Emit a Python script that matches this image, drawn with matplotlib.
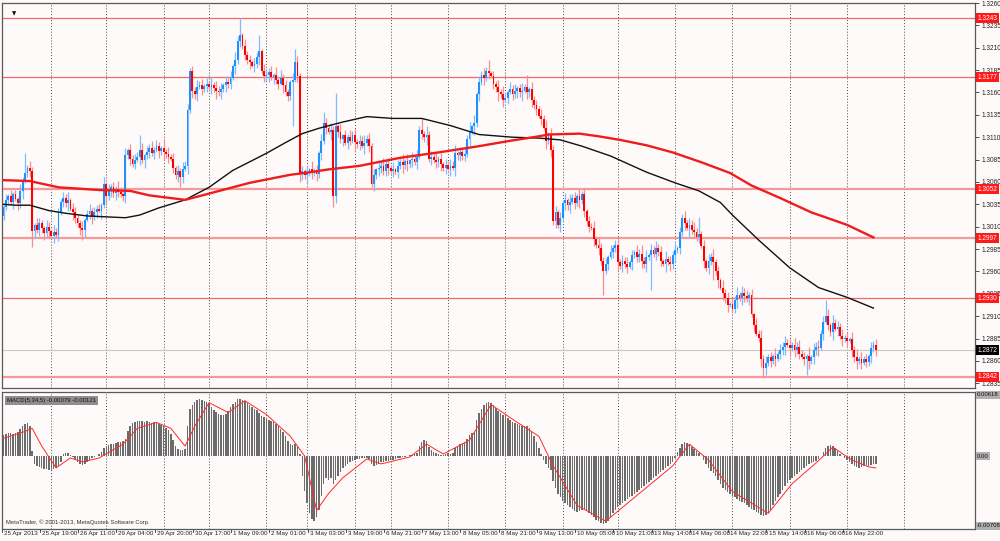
import numpy as np
import matplotlib
matplotlib.use("Agg")
import matplotlib.pyplot as plt
from matplotlib.transforms import blended_transform_factory

plt.rcParams["font.family"] = ["Liberation Sans", "DejaVu Sans"]

# EURUSD H1 candles, prices written as pips above 1.2800
BASE = 1.2800
first_open = 222
closes = [
    232, 240, 244, 238, 246, 241, 236, 250, 262, 270,
    276, 272, 205, 212, 206, 214, 208, 203, 210, 205,
    200, 204, 201, 225, 238, 242, 236, 240, 230, 226,
    220, 214, 208, 206, 218, 224, 228, 222, 226, 230,
    228, 234, 258, 244, 250, 254, 248, 252, 249, 246,
    244, 290, 296, 286, 280, 284, 288, 296, 284, 290,
    294, 298, 292, 296, 300, 295, 298, 293, 291, 288,
    286, 276, 268, 272, 266, 274, 278, 340, 384, 362,
    358, 366, 368, 364, 367, 370, 366, 368, 365, 362,
    360, 364, 368, 372, 370, 376, 390, 396, 418, 424,
    412, 402, 396, 394, 390, 392, 400, 406, 384, 378,
    380, 383, 377, 380, 374, 370, 376, 368, 360, 356,
    372, 374, 394, 378, 270, 272, 268, 271, 274, 270,
    272, 269, 292, 306, 326, 320, 316, 318, 244, 322,
    316, 308, 312, 304, 310, 306, 312, 305, 302, 306,
    300, 304, 308, 300, 258, 268, 274, 276, 278, 272,
    280, 276, 272, 274, 271, 278, 282, 279, 283, 280,
    284, 286, 282, 288, 318, 314, 310, 313, 286, 288,
    284, 282, 286, 280, 276, 279, 275, 278, 276, 292,
    290, 293, 289, 291, 308, 316, 322, 326, 358, 372,
    380, 376, 384, 382, 378, 370, 366, 360, 358, 352,
    354, 360, 364, 358, 362, 365, 360, 362, 366, 360,
    364, 352, 346, 342, 334, 330, 320, 306, 312, 296,
    216, 226, 212, 220, 236, 240, 234, 238, 242, 236,
    244, 240, 246, 228, 216, 210, 208, 196, 190, 186,
    172, 160, 168, 176, 182, 186, 190, 170, 166, 172,
    168, 165, 170, 178, 182, 176, 180, 172, 168, 176,
    178, 184, 180, 186, 182, 172, 168, 174, 170, 168,
    178, 184, 186, 204, 220, 214, 208, 212, 206, 204,
    198, 202, 188, 172, 164, 172, 176, 170, 160, 150,
    142, 136, 130, 122, 124, 118, 128, 134, 130, 136,
    132, 130, 134, 112, 100, 90, 86, 62, 52, 58,
    64, 60, 66, 62, 68, 72, 76, 80, 78, 74,
    78, 72, 76, 68, 64, 62, 66, 60, 64, 72,
    76, 74, 90, 104, 110, 100, 92, 102, 96, 98,
    88, 84, 86, 82, 85, 72, 64, 60, 62, 58,
    62, 59, 66, 74, 78, 72,
]

# wick lengths in pips, one digit per bar
upper_wick = ("4627352846 3752864375 2846375927 6438257364 5372846395 3826475382 "
              "6483752948 3627485736 4857362948 5736482957 3846275938 6472839564 "
              "2857463829 4738265847 3926485736 5847362859 4738265938 2748563947 "
              "5836274859 3647582936 4758263849 6384725936 2846375948 5736482947 "
              "3857264839 6472835946 4836275948 3748562937 5826374859 4637285946 "
              "3847265938 5736284957 4628375846 3857462938 5746382957 4836275948 "
              "3627485936")
lower_wick = ("5364827593 4728365847 3857264938 6473825946 2938475863 5847362938 "
              "4736285947 3658472938 5827364859 4738562947 3648275936 5837462948 "
              "4726385947 3857462938 6483752946 2947385764 5836274958 4738265947 "
              "3658472839 5746382957 4837265948 3726485937 5847362948 4638275936 "
              "3957462848 5836274937 4728365849 3847562938 5736482947 4628375948 "
              "3857264937 6473825948 4738265937 3846275948 5827364938 4736285947 "
              "3658472938")

high_fix = {9: 292, 57: 312, 99: 443, 107: 424, 122: 409, 134: 338, 139: 359,
            175: 331, 195: 327, 203: 396, 219: 379, 242: 250, 284: 224,
            291: 221, 344: 128, 365: 84}
low_fix = {12: 187, 22: 197, 33: 195, 74: 254, 119: 351, 121: 323, 124: 260,
           138: 232, 154: 254, 231: 208, 251: 134, 271: 139, 297: 150,
           305: 114, 318: 41, 336: 44}

# moving averages (bar index, pips above 1.2800)
red_ma_bars = [0, 11, 23, 40, 53, 61, 76, 86, 103, 120, 126, 136, 149, 166, 182,
               199, 212, 224, 228, 241, 249, 258, 269, 280, 292, 304, 313, 325,
               338, 353, 364]
red_ma_vals = [262, 261, 254, 251, 250, 245, 240, 247, 259, 268, 270, 274, 278,
               287, 293, 300, 306, 311, 313, 314, 311, 307, 301, 293, 282, 270,
               256, 242, 226, 212, 198]
black_ma_bars = [0, 5, 11, 19, 26, 35, 43, 51, 57, 65, 76, 86, 96, 110, 118, 125,
                 132, 142, 152, 163, 175, 187, 199, 213, 224, 233, 242, 254, 269,
                 281, 291, 300, 305, 316, 329, 341, 353, 364]
black_ma_vals = [235, 234, 234, 228, 225, 222, 221, 220, 223, 231, 240, 254, 273,
                 292, 304, 314, 320, 327, 333, 331, 331, 323, 313, 310, 309, 307,
                 300, 289, 271, 259, 250, 237, 223, 195, 164, 142, 131, 119]

# MACD(5,34,5) histogram, units of 0.0001
macd = [
    21, 22, 23, 23, 22, 23, 24, 27, 30, 32, 33, 30, 5,
    -8, -10, -11, -12, -13, -13, -14, -14, -13, -12, -10, -6,
    2, 3, 3, 1, -1, -3, -6, -8, -9, -8, -6, -4, -2, -1, 0, 2, 4,
    8, 10, 11, 12, 12, 13, 14, 14, 15, 17,
    25, 30, 33, 34, 35, 35, 35, 34, 35, 34, 33, 34, 33,
    32, 31, 30, 28, 26, 22, 16, 10, 7, 6, 6, 7, 30, 48, 52, 55,
    57, 58, 57, 56, 55, 53, 50, 47, 45, 43, 42, 42, 43, 46, 50, 53,
    55, 58, 58, 57, 56, 54, 52, 50, 48, 47, 44, 41, 39, 37, 36, 35, 34,
    32, 30, 27, 24, 20, 15, 12, 11, 12, 10, 2,
    -20, -35, -48, -58, -64, -66, -62, -55, -40, -28, -22, -24, -22, -28, -24,
    -20, -16, -12, -10, -8, -6, -5, -4, -3, -3, -2,
    -2, -2, -3, -8, -10, -9, -8, -6, -6, -5,
    -5, -4, -4, -3, -2, -2, -1, -1, 0, 1, 1, 2, 3, 10, 14, 16, 15, 9,
    6, 4, 3, 2, 1, 1, 2, 3, 2, 3, 8, 10, 12, 13, 14, 17, 21, 23, 24,
    36, 44, 48, 52, 54, 55, 54, 52, 49, 46, 44, 42, 40, 38, 36, 34, 33,
    32, 31, 30, 30, 30, 28, 25, 20, 14, 8, 2, -4, -8, -12, -14,
    -25, -32, -38, -42, -46, -48, -50, -52, -54, -56, -57,
    -56, -55, -54, -56, -58, -60, -62, -65, -66, -68, -69, -68, -66, -62, -58,
    -55, -52, -50, -48, -46, -44, -42, -40, -38, -36,
    -34, -32, -30, -28, -26, -24, -22, -20, -18, -16, -14, -12, -10, -8, -6,
    -2, 4, 8, 12, 14, 13, 11, 9, 7, 5, 3, 0, -4, -8, -12,
    -15, -17, -20, -24, -28, -32, -34, -36, -38, -40,
    -42, -44, -46, -47, -48, -50, -52, -54, -55,
    -57, -58, -60, -61, -60, -58, -55, -50, -46, -42, -38, -34, -30, -27, -24, -22,
    -20, -18, -16, -14, -12, -10, -8, -7, -6, -5,
    -3, 0, 4, 8, 10, 11, 10, 8, 5, 2, 0, -2, -4,
    -6, -8, -10, -11, -12, -11, -10, -9, -10, -9, -8, -8,
]
signal_bars = [0, 8, 12, 16, 22, 28, 33, 40, 50, 56, 64, 70, 76, 80, 86, 94, 101,
               110, 120, 126, 131, 136, 142, 152, 158, 170, 177, 184, 195, 204,
               215, 224, 230, 240, 252, 265, 280, 287, 295, 305, 320, 330, 340,
               347, 355, 362, 365]
signal_vals = [18, 24, 28, 10, -12, -2, -6, -2, 12, 28, 34, 28, 10, 30, 54, 44,
               56, 42, 20, 0, -55, -38, -22, -3, -8, -1, 12, 2, 16, 52, 34, 20,
               -10, -50, -66, -40, -10, 12, -4, -36, -58, -28, -7, 9, -4, -11, -12]

# horizontal levels drawn on the chart
thin_levels = [1.3243, 1.3177, 1.2930]
thick_levels = [1.3052, 1.2997, 1.2842]
bid = 1.2872

time_labels = ["25 Apr 2013", "25 Apr 19:00", "26 Apr 11:00", "29 Apr 04:00",
               "29 Apr 20:00", "30 Apr 17:00", "1 May 09:00", "2 May 01:00",
               "3 May 03:00", "3 May 19:00", "6 May 21:00", "7 May 13:00",
               "8 May 05:00", "8 May 21:00", "9 May 13:00", "10 May 05:00",
               "10 May 21:00", "13 May 14:00", "14 May 06:00", "14 May 22:00",
               "15 May 14:00", "16 May 06:00", "16 May 22:00"]
day_grid = [20, 43, 67, 86, 110, 127, 147, 162, 186, 210, 234, 257, 281, 305,
            329, 353, 377]

BG = "#fefaf9"
UP, DOWN = "#1e90ff", "#ff0000"
UP_WICK, DOWN_WICK = "#7dbdff", "#ff8a8a"
FS = 4.7

n = len(closes)
idx = np.arange(n)
c = np.array(closes, float)
o = np.concatenate([[first_open], c[:-1]])
uw = np.array([int(ch) for ch in upper_wick.replace(" ", "")][:n], float)
lw = np.array([int(ch) for ch in lower_wick.replace(" ", "")][:n], float)
h = np.maximum(o, c) + uw
l = np.minimum(o, c) - lw
for k, v in high_fix.items():
    h[k] = v
for k, v in low_fix.items():
    l[k] = v
o, c, h, l = [BASE + a / 10000 for a in (o, c, h, l)]

fig = plt.figure(figsize=(10, 5.41), dpi=100, facecolor=BG)
ax = fig.add_axes([0.002, 1 - 388 / 541, 0.973, 385 / 541], facecolor=BG)
ax2 = fig.add_axes([0.002, 1 - 529 / 541, 0.973, 137 / 541], facecolor=BG)

x_lo, x_hi = -0.63, 406.5
for a in (ax, ax2):
    a.set_xlim(x_lo, x_hi)
    for s in a.spines.values():
        s.set_color("#5a5a5a")
        s.set_linewidth(0.9)
    for g in day_grid:
        a.axvline(g, color="#4a4a4a", lw=0.7, ls=(0, (1, 2)), zorder=0)
    a.set_xticks([])

# price pane
ax.set_ylim(1.28297, 1.32598)
for lv in thin_levels:
    ax.axhline(lv, color="#f26a6a", lw=0.9, zorder=1)
for lv in thick_levels:
    ax.axhline(lv, color="#f59a9a", lw=1.6, zorder=1)
ax.axhline(bid, color="#c8c8c8", lw=0.8, zorder=1)

up = c >= o
wick_col = np.where(up, UP_WICK, DOWN_WICK)
body_col = np.where(up, UP, DOWN)
ax.vlines(idx, l, h, colors=wick_col, lw=0.9, zorder=2)
body = np.maximum(np.abs(c - o), 0.00008)
ax.bar(idx, body, bottom=np.minimum(o, c), width=0.75, color=body_col,
       linewidth=0, zorder=3)

ax.plot(black_ma_bars, BASE + np.array(black_ma_vals) / 10000, color="#111111",
        lw=1.0, zorder=4)
ax.plot(red_ma_bars, BASE + np.array(red_ma_vals) / 10000, color="#f01c1c",
        lw=1.7, zorder=4)

price_ticks = np.arange(1.2835, 1.32601, 0.0025)
ax.yaxis.tick_right()
ax.set_yticks(price_ticks)
ax.set_yticklabels([f"{p:.4f}" for p in price_ticks])
ax.tick_params(axis="y", length=3, width=0.6, color="#333333", labelsize=FS,
               pad=2, labelcolor="#222222")

ytr = ax.get_yaxis_transform()
for lv in thin_levels + thick_levels:
    ax.text(1.003, lv, f"{lv:.4f}", transform=ytr, fontsize=FS, color="white",
            va="center", ha="left", zorder=10, clip_on=False,
            bbox=dict(boxstyle="square,pad=0.25", fc="#ff1a1a", ec="none"))
ax.text(1.003, bid, f"{bid:.4f}", transform=ytr, fontsize=FS, color="white",
        va="center", ha="left", zorder=10, clip_on=False,
        bbox=dict(boxstyle="square,pad=0.25", fc="#000000", ec="none"))
ax.text(0.012, 0.972, "\u25bc", transform=ax.transAxes, fontsize=4,
        family="DejaVu Sans", color="#111111", ha="center", va="center")

# MACD pane
ax2.set_ylim(-0.00739, 0.00648)
ax2.set_yticks([])
ax2.bar(idx, np.array(macd) / 10000, width=0.62, color="#6c6c6c", linewidth=0,
        zorder=2)
ax2.plot(signal_bars, np.array(signal_vals) / 10000, color="#ff2a2a", lw=0.7,
         zorder=3)

ytr2 = ax2.get_yaxis_transform()
for val, txt in [(0.00618, "0.00618"), (0.0, "0.00"), (-0.00708, "-0.00708")]:
    ax2.text(1.002, val, txt, transform=ytr2, fontsize=4.3, color="#111111",
             va="center", ha="left", clip_on=False,
             bbox=dict(boxstyle="square,pad=0.2", fc="#b0b0b0", ec="none"))
ax2.text(0.005, 0.955, "MACD(5,34,5) -0.00079 -0.00121", transform=ax2.transAxes,
         fontsize=4.3, color="#111111", ha="left", va="top",
         bbox=dict(boxstyle="square,pad=0.3", fc="#8e8e8e", ec="none"))
ax2.text(0.004, 0.03, "MetaTrader, \u00a9 2001-2013, MetaQuotes Software Corp.",
         transform=ax2.transAxes, fontsize=4.2, color="#333333", ha="left",
         va="bottom")

# time axis labels, one every 16 bars
xtr = blended_transform_factory(ax2.transData, ax2.transAxes)
for k, lab in enumerate(time_labels):
    xp = 16 * k - 0.8
    ax2.plot([xp, xp], [0, -0.025], transform=xtr, color="#333333", lw=0.6,
             clip_on=False)
    ax2.text(xp + 0.9, -0.015, lab, transform=xtr, fontsize=4.5,
             color="#222222", ha="left", va="top", clip_on=False)

fig.savefig("out.png", dpi=100, facecolor=BG)
